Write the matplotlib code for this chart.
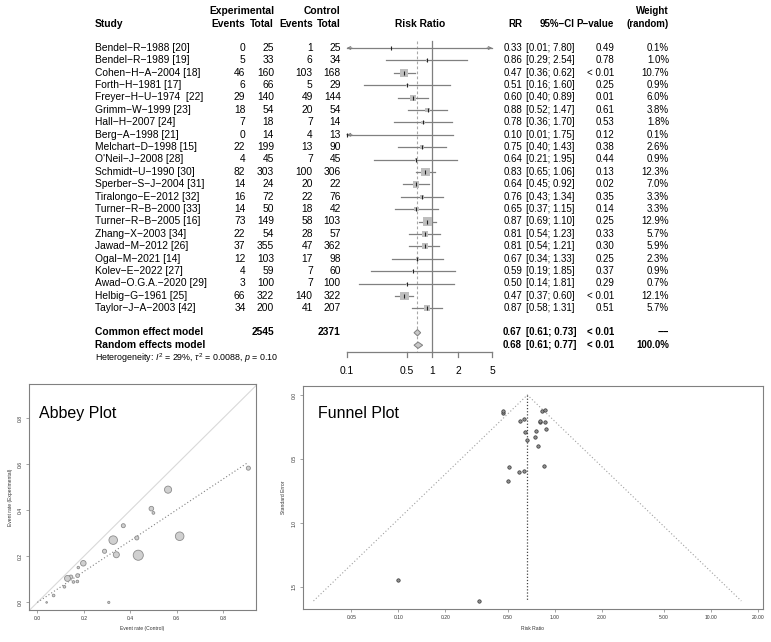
import numpy as np
import matplotlib.pyplot as plt
from matplotlib.patches import Polygon

plt.rcParams['font.family'] = ['Liberation Sans', 'DejaVu Sans']
plt.rcParams['mathtext.fontset'] = 'custom'
plt.rcParams['mathtext.rm'] = 'Liberation Sans'
plt.rcParams['mathtext.it'] = 'Liberation Sans:italic'

# ---- data ----
studies = ["Bendel-R-1988 [20]", "Bendel-R-1989 [19]", "Cohen-H-A-2004 [18]", "Forth-H-1981 [17]",
           "Freyer-H-U-1974  [22]", "Grimm-W-1999 [23]", "Hall-H-2007 [24]", "Berg-A-1998 [21]",
           "Melchart-D-1998 [15]", "O'Neil-J-2008 [28]", "Schmidt-U-1990 [30]", "Sperber-S-J-2004 [31]",
           "Tiralongo-E-2012 [32]", "Turner-R-B-2000 [33]", "Turner-R-B-2005 [16]", "Zhang-X-2003 [34]",
           "Jawad-M-2012 [26]", "Ogal-M-2021 [14]", "Kolev-E-2022 [27]", "Awad-O.G.A.-2020 [29]",
           "Helbig-G-1961 [25]", "Taylor-J-A-2003 [42]"]
exp_events = [0, 5, 46, 6, 29, 18, 7, 0, 22, 4, 82, 14, 16, 14, 73, 22, 37, 12, 4, 3, 66, 34]
exp_total = [25, 33, 160, 66, 140, 54, 18, 14, 199, 45, 303, 24, 72, 50, 149, 54, 355, 103, 59, 100, 322, 200]
ctrl_events = [1, 6, 103, 5, 49, 20, 7, 4, 13, 7, 100, 20, 22, 18, 58, 28, 47, 17, 7, 7, 140, 41]
ctrl_total = [25, 34, 168, 29, 144, 54, 14, 13, 90, 45, 306, 22, 76, 42, 103, 57, 362, 98, 60, 100, 322, 207]
rr = [0.33, 0.86, 0.47, 0.51, 0.60, 0.88, 0.78, 0.10, 0.75, 0.64, 0.83, 0.64,
      0.76, 0.65, 0.87, 0.81, 0.81, 0.67, 0.59, 0.50, 0.47, 0.87]
ci_low = [0.01, 0.29, 0.36, 0.16, 0.40, 0.52, 0.36, 0.01, 0.40, 0.21, 0.65, 0.45,
          0.43, 0.37, 0.69, 0.54, 0.54, 0.34, 0.19, 0.14, 0.37, 0.58]
ci_high = [7.80, 2.54, 0.62, 1.60, 0.89, 1.47, 1.70, 1.75, 1.43, 1.95, 1.06, 0.92,
           1.34, 1.15, 1.10, 1.23, 1.21, 1.33, 1.85, 1.81, 0.60, 1.31]
p_values = ["0.49", "0.78", "< 0.01", "0.25", "0.01", "0.61", "0.53", "0.12", "0.38", "0.44", "0.13",
            "0.02", "0.35", "0.14", "0.25", "0.33", "0.30", "0.25", "0.37", "0.29", "< 0.01", "0.51"]
weight_random = [0.1, 1.0, 10.7, 0.9, 6.0, 3.8, 1.8, 0.1, 2.6, 0.9, 12.3, 7.0,
                 3.3, 3.3, 12.9, 5.7, 5.9, 2.3, 0.9, 0.7, 12.1, 5.7]
# standard error of log RR (funnel plot y values)
se_log_rr = [1.609, 0.554, 0.139, 0.563, 0.202, 0.262, 0.398, 1.444, 0.326, 0.590, 0.125,
             0.185, 0.284, 0.288, 0.121, 0.212, 0.207, 0.350, 0.599, 0.675, 0.127, 0.210]
# common effect weights (symbol size in the Abbey plot)
weight_common = [0.5, 2.96, 50.2, 3.47, 24.2, 10.0, 3.94, 2.07, 8.95, 3.5, 49.8, 10.4,
                 10.7, 9.78, 34.3, 13.6, 23.3, 8.71, 3.47, 3.5, 70.0, 20.1]
common_model = (0.67, 0.61, 0.73, "< 0.01", "\u2212\u2212")
random_model = (0.68, 0.61, 0.77, "< 0.01", "100.0%")
hetero_text = r"Heterogeneity: $I^2$ = 29%, $\tau^2$ = 0.0088, $p$ = 0.10"

MINUS = "\u2212"
W, H = 771, 642
fig = plt.figure(figsize=(W / 100, H / 100), dpi=100)

# background axes in pixel coordinates, used for the table text
bg = fig.add_axes([0, 0, 1, 1])
bg.set_xlim(0, W)
bg.set_ylim(H, 0)
bg.axis("off")

FS = 7.4     # left table
FS_R = 7.0   # right table
row0, row_step = 48.0, 12.4
rows = [row0 + i * row_step for i in range(len(studies))]
y_common, y_random, y_het = 332.7, 345.2, 358.3
base = 2.7  # baseline offset from row centre

# right-hand column edges
X_RR, X_CI, X_P, X_W = 522, 574.5, 614, 669


def txt(x, y, s, ha="right", bold=False, size=FS):
    bg.text(x, y + base, s, ha=ha, va="baseline", fontsize=size,
            fontweight="bold" if bold else "normal", color="black")


# headers
txt(274, 11, "Experimental", bold=True)
txt(340.7, 11, "Control", bold=True)
txt(X_W, 11, "Weight", bold=True, size=FS_R)
txt(95, 24, "Study", ha="left", bold=True)
txt(245.5, 24, "Events", bold=True)
txt(274, 24, "Total", bold=True)
txt(312.7, 24, "Events", bold=True)
txt(340.7, 24, "Total", bold=True)
txt(420, 24, "Risk Ratio", ha="center", bold=True)
txt(X_RR, 24, "RR", bold=True, size=FS_R)
txt(X_CI, 24, "95%" + MINUS + "CI", bold=True, size=FS_R)
txt(X_P, 24, "P" + MINUS + "value", bold=True, size=FS_R)
txt(X_W, 24, "(random)", bold=True, size=FS_R)

for i, y in enumerate(rows):
    txt(95, y, studies[i].replace("-", MINUS), ha="left")
    txt(245.5, y, str(exp_events[i]))
    txt(274, y, str(exp_total[i]))
    txt(312.7, y, str(ctrl_events[i]))
    txt(340.7, y, str(ctrl_total[i]))
    txt(X_RR, y, f"{rr[i]:.2f}", size=FS_R)
    txt(X_CI, y, f"[{ci_low[i]:.2f}; {ci_high[i]:.2f}]", size=FS_R)
    txt(X_P, y, p_values[i], size=FS_R)
    txt(X_W, y, f"{weight_random[i]:.1f}%", size=FS_R)

for y, label, model, totals in [(y_common, "Common effect model", common_model, True),
                                (y_random, "Random effects model", random_model, False)]:
    txt(95, y, label, ha="left", bold=True)
    if totals:
        txt(274, y, str(sum(exp_total)), bold=True)
        txt(340.7, y, str(sum(ctrl_total)), bold=True)
    txt(X_RR, y, f"{model[0]:.2f}", bold=True, size=FS_R)
    txt(X_CI + 2, y, f"[{model[1]:.2f}; {model[2]:.2f}]", bold=True, size=FS_R)
    txt(X_P, y, model[3], bold=True, size=FS_R)
    txt(X_W, y, model[4], bold=True, size=FS_R)
txt(95, y_het, hetero_text, ha="left", size=6.4)

# forest graphic: log x axis, y in pixel units
ax = fig.add_axes([346.7 / W, 0, (492.3 - 346.7) / W, 1])
ax.set_xscale("log")
ax.set_xlim(0.1, 5)
ax.set_ylim(H, 0)
ax.axis("off")
ax.patch.set_visible(False)

x_min, x_max = 0.1, 5
ax.plot([1, 1], [41, 351.7], color="#7f7f7f", lw=0.9, clip_on=False)
ax.plot([common_model[0]] * 2, [41, 351.7], color="#a8a8a8", lw=0.8, ls=(0, (2.5, 2)), clip_on=False)

for i, y in enumerate(rows):
    lo, hi = max(ci_low[i], x_min), min(ci_high[i], x_max)
    ax.plot([lo, hi], [y, y], color="#808080", lw=0.9, clip_on=False, zorder=2)
    if ci_low[i] < x_min:
        ax.annotate("", xy=(x_min, y), xytext=(x_min * 1.15, y),
                    arrowprops=dict(arrowstyle="->", color="#808080", lw=0.8,
                                    shrinkA=0, shrinkB=0, mutation_scale=5))
    if ci_high[i] > x_max:
        ax.annotate("", xy=(x_max, y), xytext=(x_max / 1.15, y),
                    arrowprops=dict(arrowstyle="->", color="#808080", lw=0.8,
                                    shrinkA=0, shrinkB=0, mutation_scale=5))

ax.scatter(rr, rows, marker="s", s=[3.2 * w for w in weight_random], color="#bebebe",
           linewidths=0, zorder=3, clip_on=False)
ax.scatter(rr, rows, marker="|", s=9, color="#222222", linewidths=0.8, zorder=4, clip_on=False)

for y, model in [(y_common, common_model), (y_random, random_model)]:
    est, lo, hi = model[0], model[1], model[2]
    ax.add_patch(Polygon([(lo, y), (est, y - 3.2), (hi, y), (est, y + 3.2)], closed=True,
                         facecolor="#c8c8c8", edgecolor="#808080", lw=0.7, clip_on=False, zorder=3))

ticks = [0.1, 0.5, 1, 2, 5]
ax.plot([x_min, x_max], [351.7, 351.7], color="#7f7f7f", lw=0.9, clip_on=False)
for t in ticks:
    ax.plot([t, t], [351.7, 356.7], color="#7f7f7f", lw=0.9, clip_on=False)
    ax.text(t, 371, f"{t:g}", ha="center", va="center", fontsize=FS)


def style_r_axes(a):
    for s in a.spines.values():
        s.set_color("#808080")
        s.set_linewidth(0.8)
    a.tick_params(direction="out", length=2.2, width=0.5, colors="#808080",
                  labelsize=3.6, labelcolor="#333333", pad=2)
    for lab in a.get_yticklabels():
        lab.set_rotation(90)
        lab.set_va("center")


# Abbey plot
ax_a = fig.add_axes([29 / W, 1 - 610 / H, 227 / W, 226 / H])
ctrl_rate = [e / n for e, n in zip(ctrl_events, ctrl_total)]
exp_rate = [e / n for e, n in zip(exp_events, exp_total)]
ax_a.set_xlim(-0.036, 0.942)
ax_a.set_ylim(-0.033, 0.949)
ax_a.axline((0, 0), slope=1, color="#d9d9d9", lw=0.8)
ax_a.plot([0, max(ctrl_rate)], [0, common_model[0] * max(ctrl_rate)], ls=(0, (1, 2)),
          color="#808080", lw=0.8)
ax_a.scatter(ctrl_rate, exp_rate, s=[0.74 * w + 1 for w in weight_common], facecolor="#d0d0d0",
             edgecolor="#8c8c8c", linewidths=0.6, zorder=3)
ticks_a = [0.0, 0.2, 0.4, 0.6, 0.8]
ax_a.set_xticks(ticks_a, [f"{t:.1f}" for t in ticks_a])
ax_a.set_yticks(ticks_a, [f"{t:.1f}" for t in ticks_a])
style_r_axes(ax_a)
ax_a.set_xlabel("Event rate (Control)", fontsize=3.6, color="#333333", labelpad=4)
ax_a.set_ylabel("Event rate (Experimental)", fontsize=3.6, color="#333333", labelpad=4)
ax_a.text(0.045, 0.87, "Abbey Plot", transform=ax_a.transAxes, fontsize=11.5, va="center")

# Funnel plot
ax_fn = fig.add_axes([302.7 / W, 1 - 609.3 / H, (763 - 302.7) / W, (609.3 - 386) / H])
ax_fn.set_xscale("log")
ax_fn.set_xlim(0.0244, 21.6)
ax_fn.set_ylim(1.674, -0.07)
se_max = max(se_log_rr)
centre = common_model[0]
ax_fn.plot([centre * np.exp(-1.96 * se_max), centre, centre * np.exp(1.96 * se_max)],
           [se_max, 0, se_max], ls=(0, (1, 2)), color="#a0a0a0", lw=0.8)
ax_fn.plot([centre, centre], [0, se_max], ls=(0, (1, 1.5)), color="#444444", lw=0.9)
ax_fn.scatter(rr, se_log_rr, s=6, facecolor="#909090", edgecolor="#333333", linewidths=0.5, zorder=3)
ticks_f = [0.05, 0.1, 0.2, 0.5, 1, 2, 5, 10, 20]
ax_fn.set_xticks(ticks_f, [f"{t:.2f}" for t in ticks_f])
ax_fn.minorticks_off()
ax_fn.set_yticks([0.0, 0.5, 1.0, 1.5], ["0.0", "0.5", "1.0", "1.5"])
style_r_axes(ax_fn)
ax_fn.set_xlabel("Risk Ratio", fontsize=3.6, color="#333333", labelpad=4)
ax_fn.set_ylabel("Standard Error", fontsize=3.6, color="#333333", labelpad=4)
ax_fn.text(0.034, 0.875, "Funnel Plot", transform=ax_fn.transAxes, fontsize=11.5, va="center")

fig.savefig("out.png", dpi=100)
